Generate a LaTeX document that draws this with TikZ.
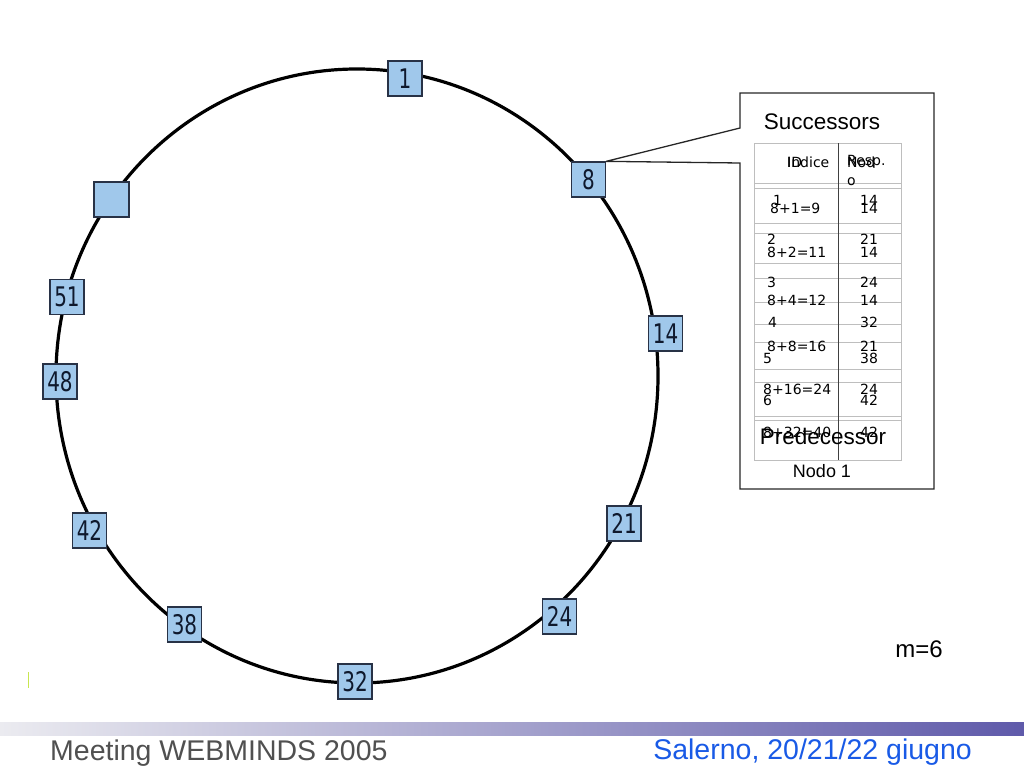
\documentclass[tikz,border=0pt]{standalone}
\usepackage{fontspec}
\setmainfont{Liberation Sans}
\newfontfamily\anellofont[FakeStretch=0.74]{DejaVu Sans}
\newfontfamily\tabellafont{DejaVu Sans}
\definecolor{nodoblu}{RGB}{160,200,235}
\definecolor{bordonodo}{RGB}{40,50,70}
\definecolor{testonodo}{RGB}{15,25,45}
\definecolor{grigliagrigia}{RGB}{190,190,190}
\definecolor{piedegrigio}{RGB}{80,80,80}
\definecolor{piedeblu}{RGB}{25,90,230}
\definecolor{barrasx}{RGB}{235,235,240}
\definecolor{barradx}{RGB}{95,90,170}
\definecolor{tacca}{RGB}{200,230,80}
\begin{document}
\begin{tikzpicture}[x=1pt,y=-1pt]
		\tikzstyle{nodo}=[minimum width=34pt, minimum height=35pt, inner sep=0pt, draw=bordonodo, line width=1.3pt, fill=nodoblu, text=testonodo, font=\anellofont\fontsize{27}{30}\selectfont]
		\tikzstyle{cella}=[inner sep=0pt, anchor=west, font=\tabellafont\fontsize{14}{16}\selectfont]
		\tikzstyle{valore}=[inner sep=0pt, font=\tabellafont\fontsize{14}{16}\selectfont]
		\tikzstyle{titolo}=[inner sep=0pt, font=\fontsize{22.5}{26}\selectfont]
		\useasboundingbox (0,0) rectangle (1024,768);
		\draw[line width=3.2pt] (357,376) ellipse (301pt and 307pt); % anello
		\node[nodo] (n1) at (405,78.5) {1};
		\node[nodo] (n8) at (588.5,179.5) {8};
		\node[nodo] (n14) at (665.5,333.5) {14};
		\node[nodo] (n21) at (624,523.5) {21};
		\node[nodo] (n24) at (559.5,616.5) {24};
		\node[nodo] (n32) at (355,681.5) {32};
		\node[nodo] (n38) at (184.5,624.5) {38};
		\node[nodo] (n42) at (89.5,530.5) {42};
		\node[nodo] (n48) at (60,381.5) {48};
		\node[nodo] (n51) at (67,297) {51};
		\node[nodo, minimum width=35pt] (nvuoto) at (111.5,199.5) {}; % nodo senza id
		% fumetto del nodo 8
		\draw[line width=1.3pt, draw=black!85] (n8.north east) -- (740,128) -- (740,93) -- (934,93) -- (934,489) -- (740,489) -- (740,163) -- (n8.north east);
		\node[titolo] (succ) at (822,122) {Successors};
		% tabella
		\draw[grigliagrigia] (754,143) rectangle (901,460);
		\draw[grigliagrigia] (754,183) -- (901,183) (754,188) -- (901,188) (754,223) -- (901,223) (754,233) -- (901,233)
			(754,263) -- (901,263) (754,278) -- (901,278) (754,302) -- (901,302) (754,324) -- (901,324)
			(754,342) -- (901,342) (754,369) -- (901,369) (754,382) -- (901,382) (754,416) -- (901,416) (754,420) -- (901,420);
		\draw[black!75] (838,143) -- (838,460);
		\node[cella] (hid) at (787,162) {ID};
		\node[cella] (hind) at (787,162) {Indice};
		\node[cella] (hresp) at (847,162) {Resp.};
		\node[cella] (hnod) at (847,162) {Nod};
		\node[cella] (hnodo) at (847,182) {o};
		\node[cella] (id1) at (773,200) {1};
		\node[valore] (r1) at (869,200) {14};
		\node[cella] (ind1) at (770,208) {8+1=9};
		\node[valore] (s1) at (869,208) {14};
		\node[cella] (id2) at (767,239) {2};
		\node[valore] (r2) at (869,239) {21};
		\node[cella] (ind2) at (767,252) {8+2=11};
		\node[valore] (s2) at (869,252) {14};
		\node[cella] (id3) at (767,282) {3};
		\node[valore] (r3) at (869,282) {24};
		\node[cella] (ind3) at (767,300) {8+4=12};
		\node[valore] (s3) at (869,300) {14};
		\node[cella] (id4) at (768,322) {4};
		\node[valore] (r4) at (869,322) {32};
		\node[cella] (ind4) at (767,346) {8+8=16};
		\node[valore] (s4) at (869,346) {21};
		\node[cella] (id5) at (763,358) {5};
		\node[valore] (r5) at (869,358) {38};
		\node[cella] (ind5) at (763,389) {8+16=24};
		\node[valore] (s5) at (869,389) {24};
		\node[cella] (id6) at (763,400) {6};
		\node[valore] (r6) at (869,400) {42};
		\node[cella] (ind6) at (763,432) {8+32=40};
		\node[valore] (s6) at (869,432) {42};
		\node[titolo] (pred) at (823,436) {Predecessor};
		\node[inner sep=0pt, font=\fontsize{18}{22}\selectfont] (nodo1) at (822,471) {Nodo 1};
		\node[inner sep=0pt, font=\fontsize{24}{28}\selectfont] (emme) at (919,649) {m=6};
		\draw[tacca, line width=1pt] (28.5,672) -- (28.5,688);
		% pie di pagina
		\shade[left color=barrasx, right color=barradx] (0,722) rectangle (1024,735);
		\node[inner sep=0pt, anchor=base west, text=piedegrigio, font=\fontsize{28.5}{32}\selectfont] (evento) at (50,760) {Meeting WEBMINDS 2005};
		\node[inner sep=0pt, anchor=base east, text=piedeblu, font=\fontsize{28.5}{32}\selectfont] (luogo) at (972,759) {Salerno, 20/21/22 giugno};
	\end{tikzpicture}
\end{document}
